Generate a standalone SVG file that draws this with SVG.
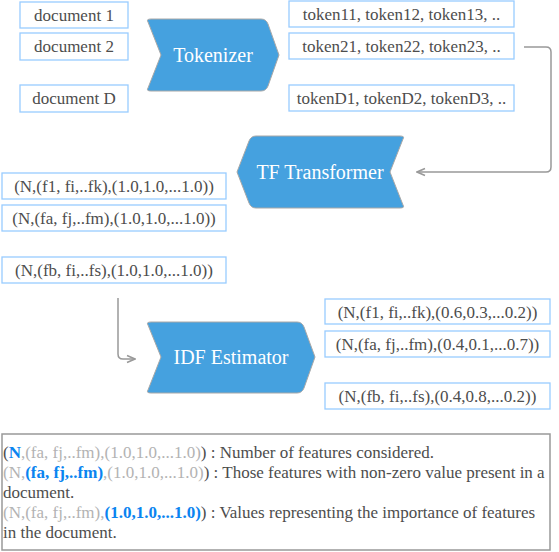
<svg xmlns="http://www.w3.org/2000/svg" width="559" height="552" viewBox="0 0 559 552">
<defs>
<style>
.box{fill:#fff;stroke:#99CCFF;stroke-width:1.3}
.t{font-family:"Liberation Serif",serif;font-size:17px;fill:#4d4d4d;text-anchor:middle}
.shape{fill:#45A1DF;stroke:#a8a8a8;stroke-width:1}
.st{font-family:"Liberation Serif",serif;font-size:20px;fill:#fff;text-anchor:middle}
.conn{fill:none;stroke:#999;stroke-width:1.5}
.lg{font-family:"Liberation Serif",serif;font-size:17px;fill:#4d4d4d}
.g{fill:#b3b3b3}
.b{fill:#0A84F0;font-weight:bold}
</style>
<marker id="arr" viewBox="0 0 10 10" refX="9" refY="5" markerWidth="10" markerHeight="10" markerUnits="userSpaceOnUse" orient="auto">
<path d="M1,1.5 L9,5 L1,8.5" fill="none" stroke="#999" stroke-width="1.5"/>
</marker>
</defs>
<rect width="559" height="552" fill="#fff"/>
<g id="connectors">
<path class="conn" d="M524,47 L546,47 Q551,47 551,52 L551,167 Q551,172 546,172 L417,172" marker-end="url(#arr)"/>
<path class="conn" d="M118,298 L118,354 Q118,359 123,359 L135,359" marker-end="url(#arr)"/>
</g>
<g id="doc1"><rect class="box" x="20" y="2" width="108" height="26"/><text class="t" x="74" y="21">document 1</text></g>
<g id="doc2"><rect class="box" x="20" y="33" width="108" height="27"/><text class="t" x="74" y="52">document 2</text></g>
<g id="docD"><rect class="box" x="20" y="85" width="108" height="27"/><text class="t" x="74" y="104">document D</text></g>
<g id="tokenizer">
<path class="shape" d="M151,19 L261,19 Q266,19 268,24 L279,55 L268,86 Q266,91 261,91 L151,91 Q146,91 148,88 L161,55 L148,22 Q146,19 151,19 Z"/>
<text class="st" x="213" y="62">Tokenizer</text>
</g>
<g id="tok1"><rect class="box" x="289" y="1" width="225" height="26"/><text class="t" x="401.5" y="20">token11, token12, token13, ..</text></g>
<g id="tok2"><rect class="box" x="289" y="33" width="225" height="26"/><text class="t" x="401.5" y="52">token21, token22, token23, ..</text></g>
<g id="tokD"><rect class="box" x="289" y="85" width="225" height="26"/><text class="t" x="401.5" y="104">tokenD1, tokenD2, tokenD3, ..</text></g>
<g id="tf">
<path class="shape" d="M256,136 L400,136 Q405,136 403,139 L390,172 L403,205 Q405,208 400,208 L256,208 Q251,208 249,203 L237,172 L249,141 Q251,136 256,136 Z"/>
<text class="st" x="320" y="179">TF Transformer</text>
</g>
<g id="tf1"><rect class="box" x="2" y="173" width="224" height="26"/><text class="t" x="114" y="192">(N,(f1, fi,..fk),(1.0,1.0,...1.0))</text></g>
<g id="tf2"><rect class="box" x="2" y="205" width="224" height="26"/><text class="t" x="114" y="224">(N,(fa, fj,..fm),(1.0,1.0,...1.0))</text></g>
<g id="tf3"><rect class="box" x="2" y="257" width="224" height="26"/><text class="t" x="114" y="276">(N,(fb, fi,..fs),(1.0,1.0,...1.0))</text></g>
<g id="idf">
<path class="shape" d="M151,322 L297,322 Q302,322 304,327 L315,357 L304,388 Q302,393 297,393 L151,393 Q146,393 148,390 L161,357 L148,325 Q146,322 151,322 Z"/>
<text class="st" x="231" y="364">IDF Estimator</text>
</g>
<g id="idf1"><rect class="box" x="325" y="299" width="225" height="25"/><text class="t" x="437.5" y="318">(N,(f1, fi,..fk),(0.6,0.3,...0.2))</text></g>
<g id="idf2"><rect class="box" x="325" y="331" width="225" height="26"/><text class="t" x="437.5" y="350">(N,(fa, fj,..fm),(0.4,0.1,...0.7))</text></g>
<g id="idf3"><rect class="box" x="325" y="383" width="225" height="26"/><text class="t" x="437.5" y="402">(N,(fb, fi,..fs),(0.4,0.8,...0.2))</text></g>
<g id="legend">
<rect x="2" y="434" width="548" height="116" fill="#fff" stroke="#999" stroke-width="1.5"/>
<text class="lg" x="3" y="458">(<tspan class="b">N</tspan><tspan class="g">,(fa, fj,..fm),(1.0,1.0,...1.0)</tspan>) : Number of features considered.</text>
<text class="lg" x="3" y="478"><tspan class="g">(N,</tspan><tspan class="b">(fa, fj,..fm)</tspan><tspan class="g">,(1.0,1.0,...1.0)</tspan>) : Those features with non-zero value present in a</text>
<text class="lg" x="3" y="498">document.</text>
<text class="lg" x="3" y="518"><tspan class="g">(N,(fa, fj,..fm),</tspan><tspan class="b">(1.0,1.0,...1.0)</tspan>) : Values representing the importance of features</text>
<text class="lg" x="3" y="538">in the document.</text>
</g>
</svg>
